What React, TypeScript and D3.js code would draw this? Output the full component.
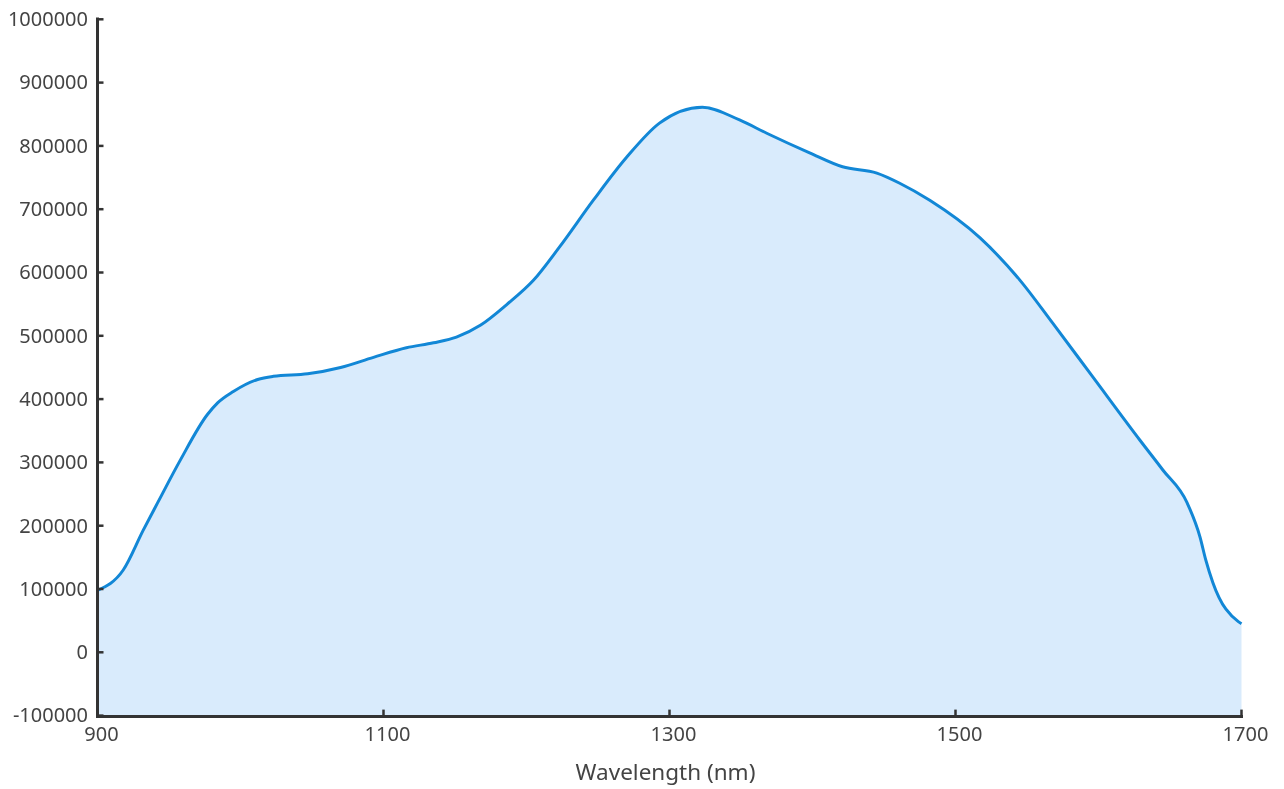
import * as React from "react";
import * as d3 from "d3";

// wavelength (nm) and intensity
const wavelength = [
  900, 918, 932, 942, 958, 977, 984, 995, 1012, 1023, 1047, 1070, 1093, 1116,
  1135, 1151, 1168, 1186, 1205, 1223, 1247, 1270, 1293, 1323, 1349, 1368, 1398,
  1421, 1445, 1461, 1482, 1517, 1545, 1568, 1596, 1629, 1645, 1662, 1671, 1675,
  1680, 1698, 1700,
];
const intensity = [
  98000, 130000, 193000, 236000, 304000, 376000, 394000, 412000, 431000, 436000,
  440000, 450000, 466000, 481000, 489000, 498000, 517000, 549000, 588000, 640000,
  715000, 782000, 836000, 861000, 841000, 820000, 789000, 767000, 757000, 741000,
  714000, 655000, 588000, 520000, 435000, 335000, 288000, 236000, 182000, 146000,
  110000, 48000, 45000,
];
const xTicks = [900, 1100, 1300, 1500, 1700];
const yTicks = [-100000, 0, 100000, 200000, 300000, 400000, 500000, 600000, 700000, 800000, 900000, 1000000];
const xTitle = "Wavelength (nm)";

const W = 1284;
const H = 789;
const axisColor = "#333";
const textColor = "#444";
const font = "'Noto Sans', 'Open Sans', sans-serif";

export default function App() {
  const x = d3.scaleLinear().domain([900, 1700]).range([97.5, 1241.5]);
  const y = d3.scaleLinear().domain([-100000, 1000000]).range([715.6, 19.3]);
  const pts = wavelength.map((w, i) => [w, intensity[i]] as [number, number]);

  const line = d3.line<[number, number]>()
    .x(d => x(d[0]))
    .y(d => y(d[1]))
    .curve(d3.curveMonotoneX);
  const area = d3.area<[number, number]>()
    .x(d => x(d[0]))
    .y0(y(-100000))
    .y1(d => y(d[1]))
    .curve(d3.curveMonotoneX);

  const x0 = x.range()[0];
  const yBase = y(-100000);

  return (
    <div style={{ position: "fixed", left: 0, top: 0 }}>
      <svg width={W} height={H} style={{ display: "block", fontFamily: font }}>
        <path d={area(pts) || ""} fill="#d9ebfc" />
        <path d={line(pts) || ""} fill="none" stroke="#1287d6" strokeWidth={3} />

        {/* y axis */}
        <line x1={x0} x2={x0} y1={17.5} y2={yBase + 1.5} stroke={axisColor} strokeWidth={3} />
        {yTicks.map(t => (
          <g key={t}>
            <line x1={x0} x2={x0 + 6} y1={y(t)} y2={y(t)} stroke={axisColor} strokeWidth={2.5} />
            <text x={88} y={y(t)} dy="0.34em" textAnchor="end" fontSize={20} fill={textColor}>
              {t}
            </text>
          </g>
        ))}

        {/* x axis */}
        <line x1={x0 - 1.5} x2={x(1700) + 1.5} y1={yBase + 1} y2={yBase + 1} stroke={axisColor} strokeWidth={3} />
        {xTicks.map(t => (
          <g key={t}>
            <line x1={x(t)} x2={x(t)} y1={yBase} y2={yBase - 6} stroke={axisColor} strokeWidth={2.5} />
            <text x={x(t) + 4} y={741} textAnchor="middle" fontSize={20} fill={textColor}>
              {t}
            </text>
          </g>
        ))}
        <text x={(x(900) + x(1700)) / 2 - 4} y={780} textAnchor="middle" fontSize={22.5} fill={textColor}>
          {xTitle}
        </text>
      </svg>
    </div>
  );
}
